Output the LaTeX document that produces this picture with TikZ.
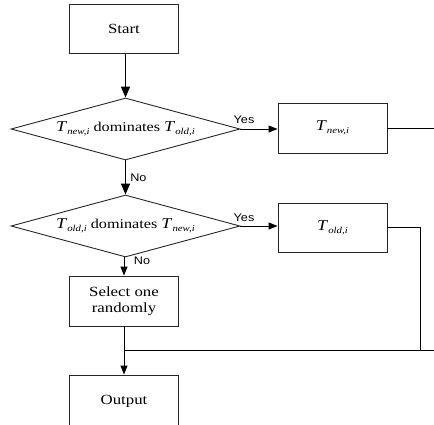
\documentclass[tikz,border=0pt]{standalone}
\usepackage{fontspec}
\setmainfont[FakeStretch=1.2]{Liberation Serif}
\newfontfamily\lblfont[FakeStretch=1.15]{Liberation Sans}
\usetikzlibrary{shapes.geometric,arrows.meta}
\newcommand\Tsb[1]{{\fontsize{15}{16}\selectfont\textit{T}}\raisebox{-0.5ex}{\fontsize{9}{10}\selectfont\itshape #1}}
\tikzset{
  box/.style={draw=black!85, line width=0.9pt, minimum width=109pt, minimum height=49pt, inner sep=0pt, align=center, font=\fontsize{14}{16.7}\selectfont},
  tbox/.style={box, font=\fontsize{13.5}{15}\selectfont},
  dec/.style={diamond, draw=black!85, line width=0.9pt, aspect=3.7, minimum width=229pt, minimum height=62pt, inner sep=0pt, font=\fontsize{13.5}{15}\selectfont},
  thick arrow/.style={line width=1.5pt, -{Triangle[length=11pt,width=9pt]}},
  thin arrow/.style={line width=1pt, -{Triangle[length=9pt,width=7pt]}},
  plain/.style={line width=1pt},
  lbl/.style={font=\lblfont\fontsize{11}{12}\selectfont, inner sep=0pt}
}
\begin{document}
\begin{tikzpicture}[x=1pt,y=-1pt]
\clip (0,0) rectangle (434,424);
\node[box] (start) at (124,29) {Start};
\node[dec] (d1) at (125.5,129) {\Tsb{new,i} dominates \Tsb{old,i}};
\node[tbox, minimum height=50pt] (tnew) at (332.5,128) {\Tsb{new,i}};
\node[dec] (d2) at (125.5,226) {\Tsb{old,i}\ dominates \Tsb{new,i}};
\node[tbox] (told) at (332.5,227.5) {\Tsb{old,i}};
\node[box, minimum height=50pt] (select) at (124,301) {Select one\\randomly};
\node[box, minimum height=52pt] (output) at (124,401) {Output};
\coordinate (e1) at (434,128);
\coordinate (j) at (124,350);
\coordinate (k) at (420,350);
\coordinate (e2) at (434,350);
\draw[thick arrow] (start.south -| d1.north) -- (d1.north);
\draw[thick arrow] (d1.south) -- node[lbl, right=4pt, pos=0.5] {No} (d2.north);
\draw[thin arrow] (d1.east) -- (d1.east -| tnew.west);
\draw[thin arrow] (d2.east) -- (d2.east -| told.west);
\node[lbl] (y1) at (244,120) {Yes};
\node[lbl] (y2) at (244,218) {Yes};
\node[lbl] (n2) at (142,261) {No};
\draw[thin arrow] (d2.south -| select.north) -- (select.north);
\draw[plain] (tnew.east) -- (e1);
\draw[plain] (told.east) -| (k);
\draw[plain] (e2) -- (j);
\draw[thin arrow] (select.south) -- (output.north);
\end{tikzpicture}
\end{document}
